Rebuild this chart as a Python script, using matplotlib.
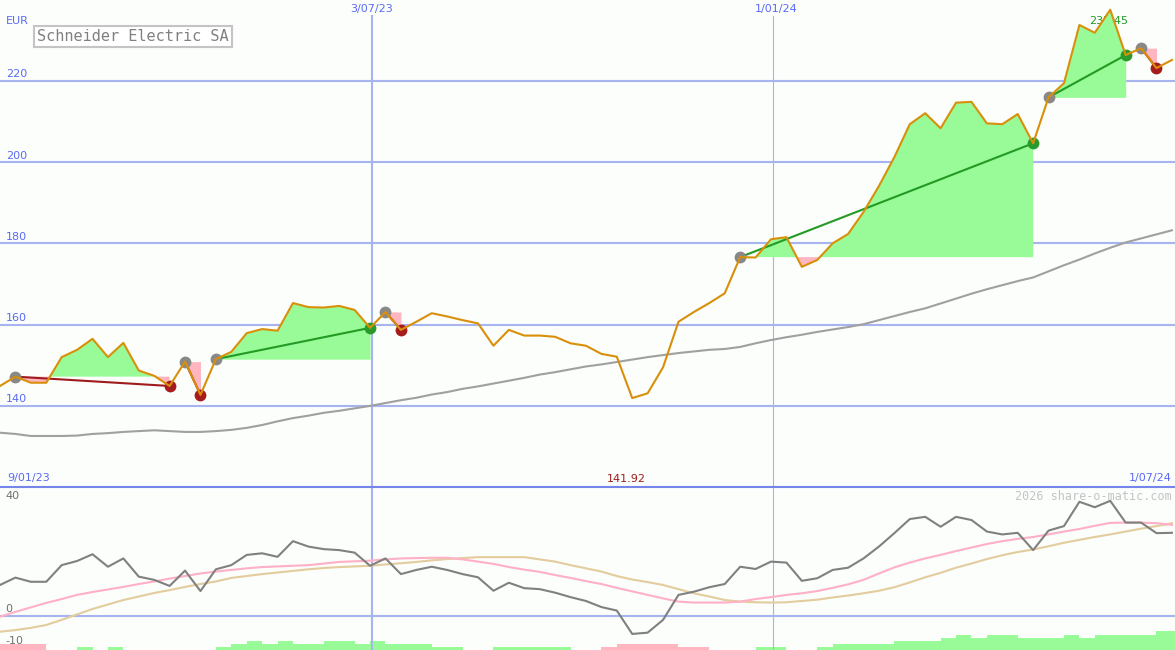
import matplotlib
matplotlib.use('Agg')
import matplotlib.pyplot as plt
import matplotlib.transforms as mtransforms
from matplotlib.lines import Line2D
import numpy as np

# weekly closes (EUR), 77 weeks
price = [144.9, 147.2, 145.7, 145.7, 152.0, 153.8, 156.5, 152.0, 155.5, 148.7,
         147.4, 144.9, 150.9, 142.7, 151.5, 153.3, 157.9, 158.9, 158.5, 165.3,
         164.3, 164.2, 164.6, 163.6, 159.2, 163.1, 158.7, 160.7, 162.8, 162.0,
         161.1, 160.3, 154.8, 158.7, 157.3, 157.3, 157.0, 155.4, 154.8, 152.8,
         152.1, 141.92, 143.1, 149.5, 160.7, 163.1, 165.3, 167.7, 176.6, 176.5,
         181.0, 181.5, 174.2, 175.9, 180.0, 182.3, 187.7, 194.1, 201.2, 209.3,
         212.0, 208.3, 214.6, 214.8, 209.5, 209.3, 211.8, 204.6, 215.9, 219.4,
         233.7, 231.8, 237.45, 226.3, 228.0, 223.1, 225.1]

ma = [133.4, 133.1, 132.6, 132.6, 132.6, 132.7, 133.1, 133.3, 133.6, 133.8,
      134.0, 133.8, 133.6, 133.6, 133.8, 134.1, 134.6, 135.3, 136.2, 137.0,
      137.6, 138.3, 138.8, 139.4, 140.0, 140.7, 141.4, 142.0, 142.8, 143.4,
      144.2, 144.8, 145.5, 146.2, 146.9, 147.7, 148.3, 149.0, 149.7, 150.2,
      150.8, 151.4, 152.0, 152.5, 153.0, 153.4, 153.8, 154.0, 154.5, 155.4,
      156.2, 156.9, 157.5, 158.2, 158.8, 159.4, 160.1, 161.1, 162.1, 163.1,
      164.0, 165.2, 166.4, 167.6, 168.7, 169.7, 170.7, 171.6, 173.1, 174.6,
      176.0, 177.5, 178.9, 180.2, 181.2, 182.2, 183.2]

# (entry week, exit week)
trades = [(1, 11), (12, 13), (14, 24), (25, 26), (48, 67), (68, 73), (74, 75)]

osc = [9.6, 11.9, 10.6, 10.6, 15.8, 17.1, 19.2, 15.3, 17.9, 12.2,
       11.2, 9.3, 14.1, 7.7, 14.5, 15.8, 19.0, 19.5, 18.4, 23.3,
       21.6, 20.8, 20.5, 19.7, 15.6, 17.9, 13.0, 14.3, 15.3, 14.3,
       13.0, 12.0, 7.8, 10.3, 8.6, 8.3, 7.2, 5.8, 4.6, 2.7,
       1.6, -5.7, -5.3, -1.3, 6.5, 7.5, 8.9, 9.9, 15.3, 14.6,
       16.9, 16.6, 10.9, 11.7, 14.3, 15.0, 17.9, 21.6, 25.8, 30.2,
       30.9, 27.8, 30.9, 29.9, 26.3, 25.4, 25.9, 20.5, 26.6, 28.0,
       35.6, 33.9, 35.9, 29.1, 29.1, 25.8, 25.9]

sig_fast = [-0.3, 1.2, 2.6, 4.0, 5.2, 6.5, 7.4, 8.2, 9.0, 9.9,
            10.7, 11.6, 12.4, 13.2, 13.8, 14.3, 14.8, 15.2, 15.4, 15.6,
            15.8, 16.3, 16.8, 17.0, 17.2, 17.6, 17.9, 18.0, 18.1, 18.1,
            17.6, 16.9, 16.2, 15.2, 14.4, 13.7, 12.7, 11.8, 10.8, 9.9,
            8.7, 7.6, 6.5, 5.4, 4.4, 4.1, 4.1, 4.1, 4.4, 5.2,
            5.8, 6.5, 7.0, 7.7, 8.7, 9.8, 11.2, 13.2, 15.1, 16.6,
            17.9, 19.0, 20.2, 21.3, 22.4, 23.3, 24.0, 24.6, 25.4, 26.3,
            27.1, 28.1, 29.0, 29.1, 29.1, 28.9, 28.4]

sig_slow = [-5.0, -4.5, -3.8, -2.9, -1.3, 0.4, 2.1, 3.5, 4.9, 6.0,
            7.1, 8.0, 9.0, 9.9, 10.7, 11.8, 12.4, 13.0, 13.5, 14.0,
            14.5, 14.9, 15.2, 15.4, 15.6, 16.0, 16.4, 16.8, 17.3, 17.7,
            18.0, 18.3, 18.3, 18.3, 18.3, 17.6, 16.9, 15.8, 14.8, 13.8,
            12.4, 11.3, 10.5, 9.6, 8.3, 7.0, 6.0, 4.9, 4.4, 4.2,
            4.1, 4.2, 4.6, 5.0, 5.7, 6.3, 7.0, 7.8, 8.9, 10.4,
            12.0, 13.4, 15.0, 16.3, 17.7, 18.9, 19.9, 20.7, 21.7, 22.8,
            23.7, 24.6, 25.4, 26.3, 27.2, 28.0, 28.9]

trend = [-2, -2, -2, 0, 0, 1, 0, 1, 0, 0,
         0, 0, 0, 0, 1, 2, 3, 2, 3, 2,
         2, 3, 3, 2, 3, 2, 2, 2, 1, 1,
         0, 0, 1, 1, 1, 1, 1, 0, 0, -1,
         -2, -2, -2, -2, -1, -1, 0, 0, 0, 1,
         1, 0, 0, 1, 2, 2, 2, 2, 3, 3,
         3, 4, 5, 4, 5, 5, 4, 4, 4, 5,
         4, 5, 5, 5, 5, 6, 6]

date_ticks = [24.1, 50.1]
date_labels = ['3/07/23', '1/01/24']
price_ticks = [140, 160, 180, 200, 220]

W, H = 1175, 650
bg = '#fbfefb'
grid = '#a8b4f0'
blue = '#5a6af5'
green_fill = '#98fb98'
pink_fill = '#ffb6c1'
orange = '#d98f0a'

weeks = np.arange(len(price))
p = np.array(price)
xmax = W / 15.42

fig = plt.figure(figsize=(11.75, 6.5), dpi=100)
fig.patch.set_facecolor(bg)
ax1 = fig.add_axes([0, 163 / H, 1, 487 / H])
ax3 = fig.add_axes([0, 0, 1, 163 / H])
ax2 = fig.add_axes([0, 0, 1, 163 / H])
for ax in (ax1, ax2, ax3):
    ax.set_axis_off()
    ax.set_xlim(0, xmax)
ax1.set_ylim(120.05, 239.85)
ax2.set_ylim(-10.72, 40.22)
ax3.set_ylim(0, 163 / 3.1)

# ---- price panel
for v in price_ticks:
    ax1.axhline(v, color=grid, lw=1.5, zorder=1)
ax1.axvline(date_ticks[0], ymax=1 - 16 / 487, color=grid, lw=1.5, zorder=1)
ax1.axvline(date_ticks[1], ymax=1 - 16 / 487, color=grid, lw=0.8, zorder=1)

ax1.plot(weeks, ma, color='#a0a0a0', lw=1.5, zorder=3)

for a, b in trades:
    xs = weeks[a:b + 1]
    ps = p[a:b + 1]
    lvl = p[a]
    ax1.fill_between(xs, ps, lvl, where=ps >= lvl, interpolate=True,
                     color=green_fill, lw=0, zorder=2)
    ax1.fill_between(xs, ps, lvl, where=ps <= lvl, interpolate=True,
                     color=pink_fill, lw=0, zorder=2)
    win = p[b] > lvl
    ax1.plot([a, b], [lvl, p[b]], color='#239a23' if win else '#a01c1c',
             lw=1.5, zorder=4)
    ax1.plot(a, lvl, 'o', color='#888888', ms=8.5, mew=0, zorder=5)
    ax1.plot(b, p[b], 'o', color='#2a9a2a' if win else '#a61c1c',
             ms=8.5, mew=0, zorder=5)

ax1.plot(weeks, price, color=orange, lw=1.5, zorder=6)

# max label sits under the fill, as in the original
imax = int(np.argmax(p))
ax1.text(imax - 0.1, 234.7, f'{p[imax]:.2f}', ha='center', va='center',
         color='#229922', fontsize=8, zorder=1.5)

tr1 = mtransforms.blended_transform_factory(ax1.transAxes, ax1.transData)
for v in price_ticks:
    ax1.text(6 / W, v + 0.35, str(v), transform=tr1, ha='left', va='bottom',
             color=blue, fontsize=8)

fig.text(6 / W, 1 - 21.5 / H, 'EUR', ha='left', va='center', color=blue, fontsize=8)
fig.text(37 / W, 1 - 36.5 / H, 'Schneider Electric SA', ha='left', va='center',
         family='DejaVu Sans Mono', fontsize=11, color='#808080',
         bbox=dict(boxstyle='square,pad=0.22', fc='white', ec='#c4c4c4', lw=1.5))
fig.text(372 / W, 1 - 9 / H, date_labels[0], ha='center', va='center', color=blue, fontsize=8)
fig.text(776 / W, 1 - 9 / H, date_labels[1], ha='center', va='center', color=blue, fontsize=8)
fig.text(7 / W, 1 - 478.5 / H, '9/01/23', ha='left', va='center', color=blue, fontsize=8)
fig.text(1172 / W, 1 - 478.5 / H, '1/07/24', ha='right', va='center', color=blue, fontsize=8)
fig.text(626 / W, 1 - 478.5 / H, f'{p.min():.2f}', ha='center', va='center',
         color='#a01c1c', fontsize=8)

fig.add_artist(Line2D([0, 1], [1 - 487 / H] * 2, color='#7585ea', lw=1.5))

# ---- indicator panel
ax3.bar(weeks, np.abs(trend), width=1.0, align='edge',
        color=[green_fill if t > 0 else pink_fill for t in trend], lw=0)

ax2.axhline(0, color=grid, lw=1.5, zorder=1)
ax2.axvline(date_ticks[0], color=grid, lw=1.5, zorder=1)
ax2.axvline(date_ticks[1], color=grid, lw=0.8, zorder=1)
ax2.plot(weeks, sig_slow, color='#e3cc9e', lw=1.5, zorder=3)
ax2.plot(weeks, sig_fast, color='#ffb0c6', lw=1.5, zorder=3)
ax2.plot(weeks, osc, color='#808080', lw=1.5, zorder=4)

fig.text(5 / W, 1 - 496 / H, '40', ha='left', va='center', color='#707070', fontsize=8)
fig.text(5 / W, 1 - 609 / H, '0', ha='left', va='center', color='#707070', fontsize=8)
fig.text(5 / W, 1 - 641.5 / H, '-10', ha='left', va='center', color='#707070', fontsize=8)
fig.text(1172 / W, 1 - 496.5 / H, '2026 share-o-matic.com', ha='right', va='center',
         family='DejaVu Sans Mono', fontsize=8.5, color='#c4c4c4')

fig.savefig('out.png', dpi=100, facecolor=bg)
